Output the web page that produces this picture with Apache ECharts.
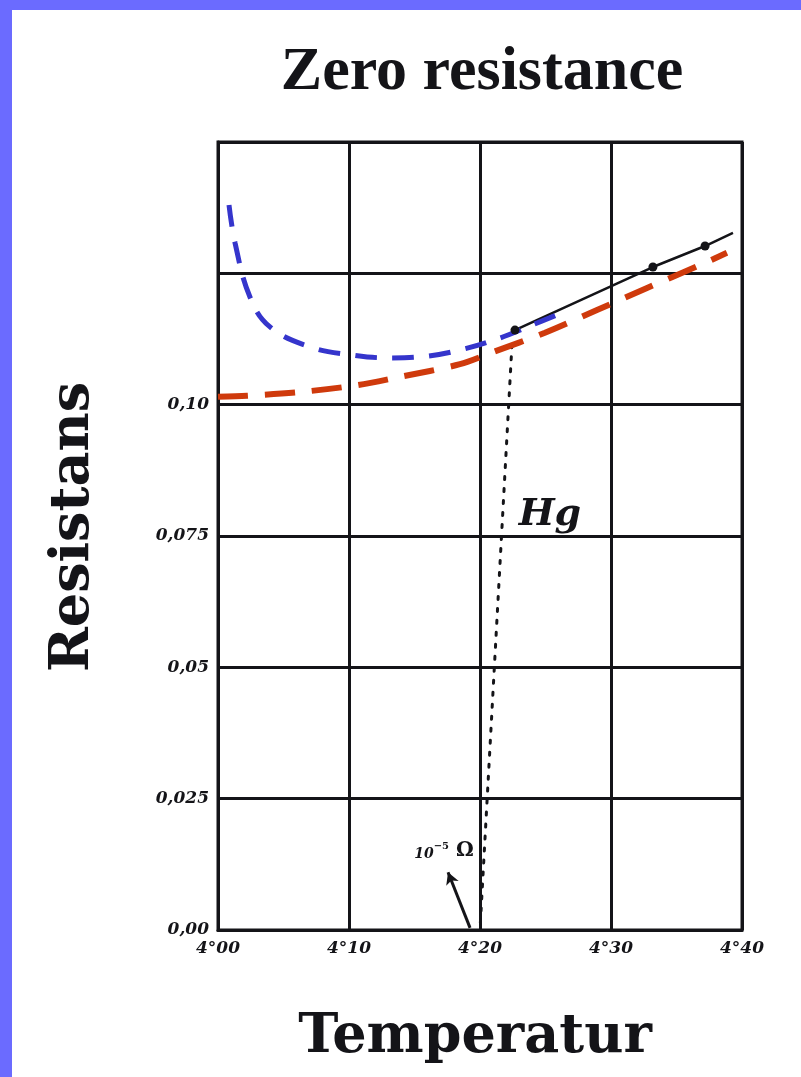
<!DOCTYPE html>
<html>
<head>
<meta charset="utf-8">
<script src="https://cdn.jsdelivr.net/npm/echarts@6/dist/echarts.min.js"></script>
<style>
  html, body { margin: 0; padding: 0; background: #ffffff; }
  #chart { width: 801px; height: 1077px; }
</style>
</head>
<body>
<div id="chart"></div>
<script>
// ---- Data ----
const titleText = 'Zero resistance';
const xAxisTitle = 'Temperatur';
const yAxisTitle = 'Resistans';

const xTickLabels = ['4°00', '4°10', '4°20', '4°30', '4°40'];
const yTickLabels = ['0,00', '0,025', '0,05', '0,075', '0,10', '', ''];

// measured mercury resistance (black line with dots)
const hgX = [4.2267, 4.332, 4.3718, 4.3931];
const hgY = [0.1142, 0.1262, 0.1302, 0.1327];
const hgDot = [true, true, true, false];

// dotted drop to zero at the transition
const dropX = [4.2244, 4.2];
const dropY = [0.1114, 0.0];

// blue dashed curve
const blueX = [4.0084, 4.013, 4.0244, 4.0397, 4.0702, 4.1008, 4.1313, 4.1542, 4.1847, 4.2153, 4.2382, 4.2626];
const blueY = [0.1380, 0.1308, 0.1205, 0.1148, 0.1110, 0.1095, 0.1089, 0.1091, 0.1104, 0.1127, 0.1150, 0.1175];

// red dashed curve
const redX = [4.0, 4.0221, 4.0626, 4.1061, 4.1389, 4.1847, 4.2099, 4.2496, 4.2893, 4.3275, 4.3664, 4.3885];
const redY = [0.1015, 0.1017, 0.1024, 0.1037, 0.1053, 0.1077, 0.1100, 0.1137, 0.1180, 0.1222, 0.1264, 0.1289];

// annotations
const hgLabel = { text: 'Hg', x: 4.2534, y: 0.0790 };
const limitLabel = { x: 4.1725, y: 0.0150 };
const arrowFrom = [4.1924, 0.0004];
const arrowTo = [4.1756, 0.0110];

// ---- Chart ----
const zip = (xs, ys) => xs.map((x, i) => [x, ys[i]]);
const chart = echarts.init(document.getElementById('chart'), null, { renderer: 'canvas' });
const ink = '#141418';
const labelFont = { fontFamily: 'DejaVu Serif', fontStyle: 'italic', fontWeight: 'bold', fontSize: 17, color: ink };

const option = {
  backgroundColor: '#ffffff',
  animation: false,
  grid: { left: 218, top: 142, width: 524, height: 788, show: true, borderColor: ink, borderWidth: 3, backgroundColor: 'transparent' },
  xAxis: {
    type: 'value', min: 4.0, max: 4.4, interval: 0.1,
    axisLine: { show: true, lineStyle: { color: ink, width: 3 } },
    axisTick: { show: false },
    splitLine: { show: true, lineStyle: { color: ink, width: 3 } },
    axisLabel: Object.assign({ margin: 10, formatter: v => xTickLabels[Math.round((v - 4.0) / 0.1)] || '' }, labelFont)
  },
  yAxis: {
    type: 'value', min: 0, max: 0.15, interval: 0.025,
    axisLine: { show: true, lineStyle: { color: ink, width: 3 } },
    axisTick: { show: false },
    splitLine: { show: true, lineStyle: { color: ink, width: 3 } },
    axisLabel: Object.assign({ margin: 9, formatter: v => yTickLabels[Math.round(v / 0.025)] || '' }, labelFont)
  },
  graphic: [
    { type: 'rect', left: 0, top: 0, shape: { width: 12, height: 1077 }, style: { fill: '#6b6bff' }, z: 100 },
    { type: 'rect', left: 0, top: 0, shape: { width: 801, height: 10 }, style: { fill: '#6b6bff' }, z: 100 },
    { type: 'text', x: 482, y: 73, style: { text: titleText, fill: ink, font: 'bold 62px "Liberation Serif"', align: 'center', verticalAlign: 'middle' } },
    { type: 'text', x: 475, y: 1038, style: { text: xAxisTitle, fill: ink, font: 'bold 54px "DejaVu Serif"', align: 'center', verticalAlign: 'middle' } },
    { type: 'text', x: 74, y: 527, rotation: Math.PI / 2, style: { text: yAxisTitle, fill: ink, font: 'bold 54px "DejaVu Serif"', align: 'center', verticalAlign: 'middle' } }
  ],
  series: [
    {
      type: 'line', name: 'drop', data: zip(dropX, dropY), symbol: 'none',
      lineStyle: { color: ink, width: 3, type: [3, 9], cap: 'round' },
      markLine: {
        silent: true, symbol: ['none', 'arrow'], symbolSize: [10, 12],
        lineStyle: { color: ink, width: 3, type: 'solid' },
        label: { show: false },
        data: [[{ coord: arrowFrom }, { coord: arrowTo }]]
      },
      markPoint: {
        silent: true, symbol: 'circle', symbolSize: 1, itemStyle: { color: 'rgba(0,0,0,0)' },
        data: [
          { coord: [hgLabel.x, hgLabel.y], label: { show: true, formatter: hgLabel.text, color: ink, fontFamily: 'DejaVu Serif', fontStyle: 'italic', fontWeight: 'bold', fontSize: 38 } },
          { coord: [limitLabel.x, limitLabel.y], label: {
              show: true, formatter: '{a|10}{b|−5}{c| Ω}',
              rich: {
                a: { fontFamily: 'DejaVu Serif', fontWeight: 'bold', fontStyle: 'italic', fontSize: 14, color: ink, verticalAlign: 'bottom' },
                b: { fontFamily: 'DejaVu Serif', fontWeight: 'bold', fontSize: 10, color: ink, verticalAlign: 'top' },
                c: { fontFamily: 'DejaVu Serif', fontWeight: 'bold', fontSize: 20, color: ink, verticalAlign: 'bottom' }
              } } }
        ]
      }
    },
    {
      type: 'line', name: 'Hg', data: zip(hgX, hgY).map((p, i) => ({ value: p, symbol: hgDot[i] ? 'circle' : 'none' })),
      symbolSize: 9, itemStyle: { color: ink }, lineStyle: { color: ink, width: 2.5 }
    },
    {
      type: 'line', name: 'red', data: zip(redX, redY), symbol: 'none', smooth: 0.3,
      lineStyle: { color: '#cf3a0c', width: 6, type: [30, 17] }
    },
    {
      type: 'line', name: 'blue', data: zip(blueX, blueY), symbol: 'none', smooth: 0.4,
      lineStyle: { color: '#3535cc', width: 5, type: [22, 15] }
    }
  ]
};
chart.setOption(option);
</script>
</body>
</html>
